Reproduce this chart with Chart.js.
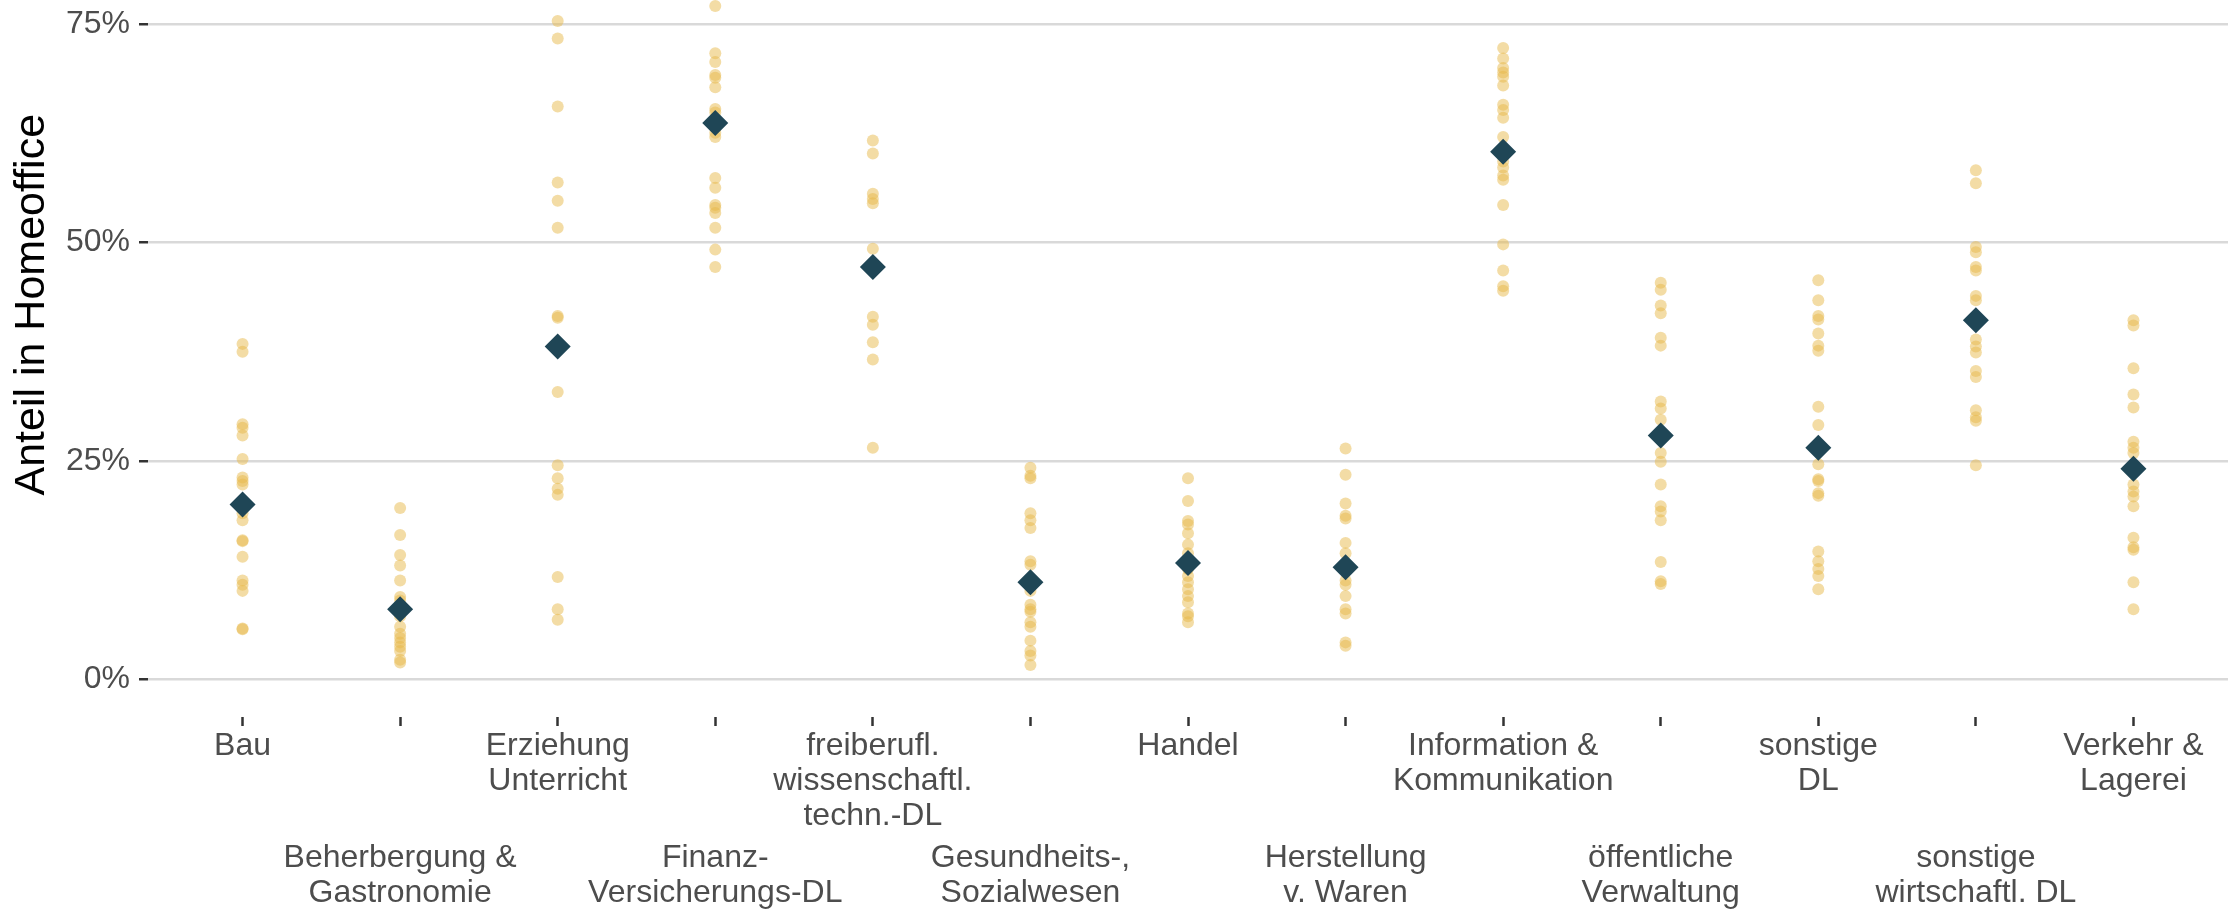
<!DOCTYPE html>
<html>
<head>
<meta charset="utf-8">
<script src="https://cdn.jsdelivr.net/npm/chart.js@4.4.0/dist/chart.umd.min.js"></script>
<style>
  html, body { margin: 0; padding: 0; background: #fff; }
  #wrap { width: 2233px; height: 912px; }
</style>
</head>
<body>
<div id="wrap"><canvas id="myChart"></canvas></div>
<script>
// Branchen (Zeilenumbrueche wie im Original)
const branchen = [
    'Bau',
    'Beherbergung &\nGastronomie',
    'Erziehung\nUnterricht',
    'Finanz-\nVersicherungs-DL',
    'freiberufl.\nwissenschaftl.\ntechn.-DL',
    'Gesundheits-,\nSozialwesen',
    'Handel',
    'Herstellung\nv. Waren',
    'Information &\nKommunikation',
    'öffentliche\nVerwaltung',
    'sonstige\nDL',
    'sonstige\nwirtschaftl. DL',
    'Verkehr &\nLagerei'
];

// Anteile in Prozent (einzelne Punkte je Branche)
const bau = [38.4, 37.5, 29.2, 28.8, 27.9, 25.2, 23.1, 22.7, 22.3, 19.5, 19.0, 18.2, 15.9, 15.8, 14.0, 11.3, 10.8, 10.1, 5.8, 5.7];
const beherbergung = [19.6, 16.5, 14.2, 13.0, 11.3, 9.4, 9.0, 8.0, 7.2, 6.0, 5.2, 4.7, 4.2, 3.7, 3.2, 2.2, 1.9];
const erziehung = [75.4, 73.4, 65.6, 56.9, 54.8, 51.7, 41.6, 41.4, 32.9, 24.5, 23.0, 21.8, 21.1, 11.7, 8.0, 6.8];
const finanz = [77.1, 71.7, 70.7, 69.2, 68.9, 67.8, 65.3, 64.9, 62.6, 62.1, 57.4, 56.3, 54.3, 54.0, 53.4, 51.7, 49.2, 47.2];
const freiberufl = [61.7, 60.2, 55.6, 55.0, 54.5, 49.3, 41.5, 40.6, 38.6, 36.6, 26.5];
const gesundheit = [24.2, 23.3, 23.0, 19.0, 18.2, 17.3, 13.5, 13.1, 10.1, 8.5, 8.0, 7.7, 6.5, 6.0, 4.4, 3.2, 2.7, 1.6];
const handel = [23.0, 20.4, 18.1, 17.7, 16.7, 15.4, 14.4, 12.6, 11.8, 11.1, 10.3, 9.5, 8.8, 7.5, 7.2, 6.5];
const herstellung = [26.4, 23.4, 20.1, 18.7, 18.4, 15.6, 14.4, 11.3, 10.8, 9.5, 8.0, 7.5, 4.2, 3.8];
const information = [72.3, 71.1, 70.0, 69.5, 69.0, 68.0, 65.8, 65.2, 64.3, 62.1, 59.3, 58.6, 57.7, 57.2, 54.3, 49.8, 46.8, 45.0, 44.5];
const verwaltung = [45.4, 44.6, 42.8, 41.9, 39.1, 38.2, 31.8, 31.0, 29.7, 25.9, 24.9, 22.3, 19.8, 19.2, 18.2, 13.4, 11.2, 10.9];
const sonstigeDL = [45.7, 43.4, 41.6, 41.2, 39.6, 38.2, 37.6, 31.2, 29.1, 24.6, 22.9, 22.7, 21.3, 21.0, 14.6, 13.5, 12.6, 11.8, 10.3];
const sonstigeWirt = [58.3, 56.8, 49.5, 48.9, 47.2, 46.8, 43.9, 43.4, 38.9, 38.1, 37.4, 35.3, 34.6, 30.8, 30.0, 29.6, 24.5];
const verkehr = [41.1, 40.5, 35.6, 32.6, 31.1, 27.2, 26.5, 25.9, 22.3, 21.5, 20.9, 19.8, 16.2, 15.1, 14.8, 11.1, 8.0];

// Mittelwerte (Raute)
const mittelwerte = [20.0, 8.0, 38.1, 63.7, 47.2, 11.1, 13.3, 12.8, 60.4, 27.9, 26.5, 41.1, 24.1];

const yTicks = [0, 25, 50, 75];

const punkteJeBranche = [bau, beherbergung, erziehung, finanz, freiberufl, gesundheit, handel,
    herstellung, information, verwaltung, sonstigeDL, sonstigeWirt, verkehr];

let punkte = [];
punkteJeBranche.forEach((werte, i) => {
    werte.forEach(v => punkte.push({x: i, y: v}));
});
let rauten = mittelwerte.map((v, i) => ({x: i, y: v}));

function GetZeilen(v){
    return branchen[Math.round(v)].split('\n');
}

const schrift = 'Liberation Sans, Arial, sans-serif';
const grau = '#4d4d4d';

// zwei Achsen unten: Beschriftungen abwechselnd oben / unten
function xAchse(reihe, gewicht, hoehe){
    return {
        type: 'linear',
        position: 'bottom',
        weight: gewicht,
        min: -0.6,
        max: 12.6,
        afterBuildTicks: s => { s.ticks = branchen.map((b, i) => ({value: i})); },
        afterFit: s => { s.paddingLeft = 0; s.paddingRight = 0; s.height = hoehe; },
        border: {display: false},
        grid: reihe === 0
            ? {drawOnChartArea: false, drawTicks: true, tickLength: 9, tickColor: '#333333', tickWidth: 2.5}
            : {display: false, drawTicks: false},
        ticks: {
            autoSkip: false,
            maxRotation: 0,
            minRotation: 0,
            padding: reihe === 0 ? 2.5 : 6.5,
            color: grau,
            font: {family: schrift, size: 32, lineHeight: 35 / 32},
            callback: v => (Math.round(v) % 2 === reihe ? GetZeilen(v) : '')
        }
    };
}

const ctx = document.getElementById('myChart');
new Chart(ctx, {
    type: 'scatter',
    data: {
        datasets: [{
            label: 'Mittelwert',
            data: rauten,
            pointStyle: 'rectRot',
            pointRadius: 13,
            backgroundColor: '#1f4656',
            borderColor: '#1f4656',
            borderWidth: 0,
            order: 0
        }, {
            label: 'Regionen',
            data: punkte,
            pointRadius: 6,
            backgroundColor: 'rgba(232, 185, 75, 0.5)',
            borderWidth: 0,
            order: 1
        }]
    },
    options: {
        responsive: true,
        maintainAspectRatio: false,
        animation: false,
        clip: false,
        layout: {autoPadding: false, padding: {left: 0, right: 5, top: 0, bottom: 0}},
        plugins: {
            legend: {display: false},
            tooltip: {enabled: false}
        },
        scales: {
            x: xAchse(0, 0, 117),
            x2: xAchse(1, 1, 78),
            y: {
                type: 'linear',
                min: -4.35,
                max: 77.8,
                afterBuildTicks: s => { s.ticks = yTicks.map(v => ({value: v})); },
                afterFit: s => { s.width = 148; s.paddingTop = 0; s.paddingBottom = 0; },
                border: {display: false},
                grid: {color: '#d9d9d9', lineWidth: 2.5, tickColor: '#333333', tickWidth: 2.5, tickLength: 9},
                ticks: {
                    autoSkip: false,
                    padding: 9,
                    color: grau,
                    font: {family: schrift, size: 32},
                    callback: v => v + '%'
                },
                title: {
                    display: true,
                    // fuehrende Leerzeichen schieben den Titel etwas nach oben
                    text: '         Anteil in Homeoffice',
                    color: '#000000',
                    font: {family: schrift, size: 43},
                    padding: {top: 6, bottom: 0}
                }
            }
        }
    }
});
</script>
</body>
</html>
